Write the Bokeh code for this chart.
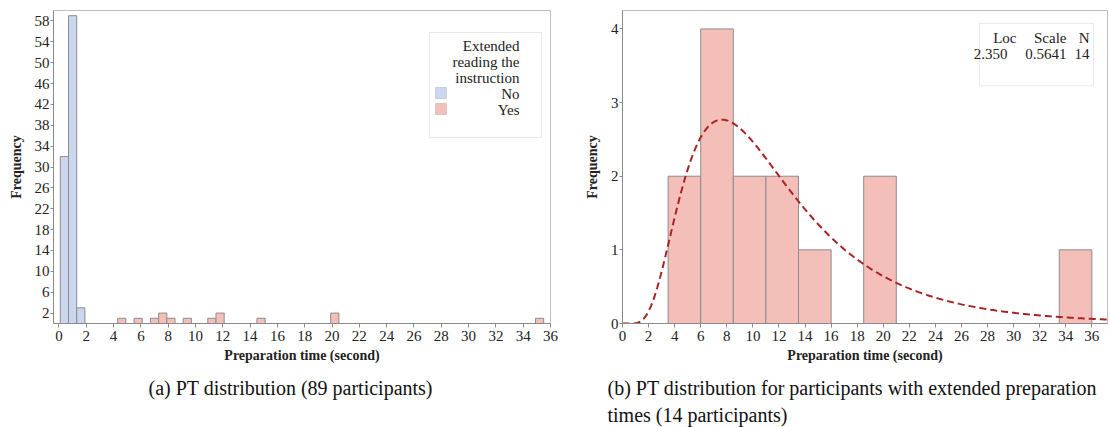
import numpy as np
from bokeh.plotting import figure
from bokeh.layouts import row, column
from bokeh.models import Range1d, FixedTicker, Label, BoxAnnotation
from bokeh.embed import file_html
from bokeh.resources import INLINE

# ---------------- data ----------------
# (a) all participants, bins of width 0.6
A_BIN_WIDTH = 0.6
A_NO_CENTERS = [0.4, 1.0, 1.6]
A_NO_COUNTS = [32, 59, 3]
A_YES_CENTERS = [4.6, 5.8, 7.0, 7.6, 8.2, 9.4, 11.2, 11.8, 14.8, 20.2, 35.2]
A_YES_COUNTS = [1, 1, 1, 2, 1, 1, 1, 2, 1, 2, 1]
A_X_TICKS = list(range(0, 37, 2))
A_Y_TICKS = list(range(2, 59, 4))

# (b) extended preparation, bins of width 2.5
B_BIN_WIDTH = 2.5
B_BIN_LEFT = [3.5, 6.0, 8.5, 11.0, 13.5, 18.5, 33.5]
B_COUNTS = [2, 4, 2, 2, 1, 2, 1]
B_X_TICKS = list(range(0, 37, 2))
B_Y_TICKS = [0, 1, 2, 3, 4]
# fitted lognormal shown in the inset
FIT_LOC = 2.350
FIT_SCALE = 0.5641
FIT_N = 14

LEGEND_TITLE = ["Extended", "reading the", "instruction"]
LEGEND_LABELS = ["No", "Yes"]
CAPTION_A = "(a) PT distribution (89 participants)"
CAPTION_B = ["(b) PT distribution for participants with extended preparation",
             "times (14 participants)"]

# ---------------- style ----------------
SERIF = "'Liberation Serif', 'Times New Roman', serif"
BLUE = "#CBD7EF"
PINK = "#F4BFB8"
EDGE = "#8C8C8C"
CURVE = "#A82424"
FRAME = "#C0C0C0"
AXIS = "#8A8A8A"
TXT = "#222222"
PLOT_H = 370
CAP_H = 427 - PLOT_H


def style(p):
    p.outline_line_color = FRAME
    p.outline_line_width = 1
    p.xgrid.visible = False
    p.ygrid.visible = False
    for ax in (p.xaxis[0], p.yaxis[0]):
        ax.axis_line_color = AXIS
        ax.major_tick_line_color = AXIS
        ax.minor_tick_line_color = None
        ax.major_tick_in = 0
        ax.major_label_text_font = SERIF
        ax.major_label_text_font_size = "15px"
        ax.major_label_text_color = TXT
        ax.axis_label_text_font = SERIF
        ax.axis_label_text_font_size = "14px"
        ax.axis_label_text_font_style = "bold"
        ax.axis_label_text_color = TXT
    p.xaxis.major_tick_out = 4
    p.xaxis.major_label_standoff = 3
    p.xaxis.axis_label_standoff = 4
    p.yaxis.major_tick_out = 3
    p.yaxis.major_label_standoff = 1
    p.yaxis.axis_label_standoff = 8
    p.xaxis.axis_label = "Preparation time (second)"
    p.yaxis.axis_label = "Frequency"


def caption_fig(width, lines, x_px):
    c = figure(width=width, height=CAP_H, output_backend="svg", toolbar_location=None,
               x_range=Range1d(0, width), y_range=Range1d(CAP_H, 0),
               x_axis_location=None, y_axis_location=None,
               min_border=0, min_border_left=0, min_border_right=0, min_border_top=0, min_border_bottom=0)
    c.outline_line_color = None
    c.xgrid.visible = False
    c.ygrid.visible = False
    for text, y_px in lines:
        c.add_layout(Label(x=x_px, y=y_px - PLOT_H, text=text, text_align="left", text_baseline="middle",
                           text_font=SERIF, text_font_size="20px", text_color="#111111"))
    return c


# ---------------- (a) ----------------
AX0, AX1, AY0, AY1 = -0.4, 36.0, 0, 60
pa = figure(width=580, height=PLOT_H, output_backend="svg", toolbar_location=None,
            x_range=Range1d(AX0, AX1), y_range=Range1d(AY0, AY1),
            min_border_left=53, min_border_right=30, min_border_top=10, min_border_bottom=PLOT_H - 323)
style(pa)
pa.xaxis.ticker = FixedTicker(ticks=A_X_TICKS)
pa.yaxis.ticker = FixedTicker(ticks=A_Y_TICKS)

a_no_c = np.array(A_NO_CENTERS)
a_yes_c = np.array(A_YES_CENTERS)
pa.quad(left=a_no_c - A_BIN_WIDTH / 2, right=a_no_c + A_BIN_WIDTH / 2, bottom=0, top=A_NO_COUNTS,
        fill_color=BLUE, line_color=EDGE, line_width=1)
pa.quad(left=a_yes_c - A_BIN_WIDTH / 2, right=a_yes_c + A_BIN_WIDTH / 2, bottom=0, top=A_YES_COUNTS,
        fill_color=PINK, line_color=EDGE, line_width=1)

# pixel -> data helpers for annotations (frame: x 53..550, y 10..323)
AFL, AFR, AFT, AFB = 53, 550, 10, 323


def afx(px):
    return AX0 + (px - AFL) / (AFR - AFL) * (AX1 - AX0)


def afy(py):
    return AY1 - (py - AFT) / (AFB - AFT) * (AY1 - AY0)


pa.add_layout(BoxAnnotation(left=afx(429), right=afx(541), top=afy(32), bottom=afy(137),
                            fill_color="white", fill_alpha=1, line_color="#BBBBBB", line_width=1))
for txt, py in zip(LEGEND_TITLE + LEGEND_LABELS, [45, 61, 77, 93, 109]):
    pa.add_layout(Label(x=afx(519), y=afy(py), text=txt, text_align="right", text_baseline="middle",
                        text_font=SERIF, text_font_size="15px", text_color=TXT))
for col, py in zip([BLUE, PINK], [93, 109]):
    pa.add_layout(BoxAnnotation(left=afx(435), right=afx(446), top=afy(py - 6), bottom=afy(py + 5),
                                fill_color=col, fill_alpha=1, line_color=EDGE, line_width=1))

# ---------------- (b) ----------------
BX0, BX1, BY0, BY1 = 0, 37.2, 0, 4.25
pb = figure(width=530, height=PLOT_H, output_backend="svg", toolbar_location=None,
            x_range=Range1d(BX0, BX1), y_range=Range1d(BY0, BY1),
            min_border_left=42, min_border_right=3, min_border_top=7, min_border_bottom=PLOT_H - 323)
style(pb)
pb.xaxis.ticker = FixedTicker(ticks=B_X_TICKS)
pb.yaxis.ticker = FixedTicker(ticks=B_Y_TICKS)

b_left = np.array(B_BIN_LEFT)
pb.quad(left=b_left, right=b_left + B_BIN_WIDTH, bottom=0, top=B_COUNTS,
        fill_color=PINK, line_color=EDGE, line_width=1)

xs = np.linspace(0.05, BX1, 400)
pdf = np.exp(-(np.log(xs) - FIT_LOC) ** 2 / (2 * FIT_SCALE ** 2)) / (xs * FIT_SCALE * np.sqrt(2 * np.pi))
ys = pdf * FIT_N * B_BIN_WIDTH
xs = np.concatenate([[0.0], xs])
ys = np.concatenate([[0.0], ys])
pb.line(xs, ys, line_color=CURVE, line_width=2, line_dash="7 4")

BFL, BFR, BFT, BFB = 622 - 580, 1107 - 580, 7, 323


def bfx(px):
    return BX0 + (px - 580 - BFL) / (BFR - BFL) * (BX1 - BX0)


def bfy(py):
    return BY1 - (py - BFT) / (BFB - BFT) * (BY1 - BY0)


pb.add_layout(BoxAnnotation(left=bfx(979), right=bfx(1093), top=bfy(20), bottom=bfy(83),
                            fill_color="white", fill_alpha=1, line_color="#BBBBBB", line_width=1))
inset = [("Loc", 1016, 35), ("Scale", 1066, 35), ("N", 1089, 35),
         (f"{FIT_LOC:.3f}", 1007, 51), (f"{FIT_SCALE:.4f}", 1066, 51), (str(FIT_N), 1089, 51)]
for txt, px, py in inset:
    pb.add_layout(Label(x=bfx(px), y=bfy(py), text=txt, text_align="right", text_baseline="middle",
                        text_font=SERIF, text_font_size="15px", text_color=TXT))

ca = caption_fig(580, [(CAPTION_A, 387)], 148)
cb = caption_fig(530, [(CAPTION_B[0], 387), (CAPTION_B[1], 414)], 607 - 580)

p = column(row(pa, pb), row(ca, cb))
open("out.html", "w").write(file_html(p, INLINE))
